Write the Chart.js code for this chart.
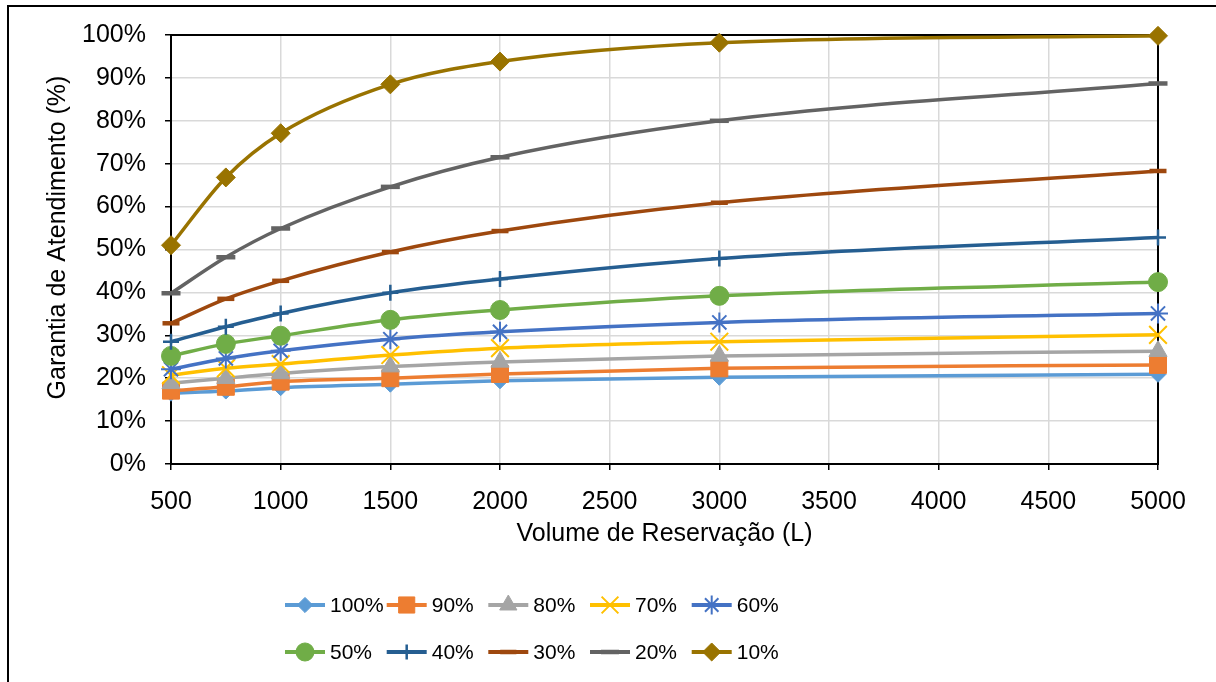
<!DOCTYPE html>
<html>
<head>
<meta charset="utf-8">
<title>Garantia de Atendimento</title>
<script src="https://cdn.jsdelivr.net/npm/chart.js@4"></script>
<style>
  html, body { margin: 0; padding: 0; background: #fff; }
  #wrap { position: relative; width: 1216px; height: 682px; overflow: hidden; }
  #frame { position: absolute; left: 7px; top: 5px; width: 1300px; height: 800px;
           border-left: 2px solid #000; border-top: 2px solid #000; }
  #c { position: absolute; left: 0; top: 0; }
</style>
</head>
<body>
<div id="wrap">
  <div id="frame"></div>
  <canvas id="c" width="1216" height="682"></canvas>
</div>
<script>
// Reservoir volume (L)
const volumes = [500, 750, 1000, 1500, 2000, 3000, 5000];

// Supply reliability (%) for each demand level
const s100 = [16.5, 17.0, 17.8, 18.6, 19.4, 20.2, 20.9];
const s90  = [17.1, 18.0, 19.2, 20.0, 21.0, 22.3, 23.1];
const s80  = [18.8, 20.0, 21.1, 22.7, 23.8, 25.2, 26.3];
const s70  = [20.7, 22.3, 23.3, 25.4, 27.0, 28.5, 30.1];
const s60  = [22.1, 24.6, 26.4, 29.1, 30.8, 33.0, 35.1];
const s50  = [25.2, 28.0, 29.9, 33.6, 35.9, 39.2, 42.4];
const s40  = [28.5, 32.0, 35.1, 39.9, 43.1, 47.9, 52.8];
const s30  = [32.8, 38.5, 42.7, 49.4, 54.3, 60.9, 68.3];
const s20  = [39.8, 48.2, 54.9, 64.6, 71.5, 80.0, 88.7];
const s10  = [51.0, 66.8, 77.1, 88.5, 93.8, 98.2, 99.8];

const seriesNames = ['100%', '90%', '80%', '70%', '60%', '50%', '40%', '30%', '20%', '10%'];
const seriesValues = [s100, s90, s80, s70, s60, s50, s40, s30, s20, s10];

const xTicksMin = 500, xTicksMax = 5000, xStep = 500;
const yTicksMin = 0, yTicksMax = 100, yStep = 10;

const yTitleText = 'Garantia de Atendimento (%)';
const xTitleText = 'Volume de Reservação (L)';

const FONT = "'Liberation Sans', Arial, sans-serif";

// marker appearance per series
const styles = [
  { color: '#5B9BD5', pointStyle: 'rectRot',  radius: 8,    bw: 1 },
  { color: '#ED7D31', pointStyle: 'rect',     radius: 12,   bw: 1 },
  { color: '#A5A5A5', pointStyle: 'triangle', radius: 10.5, bw: 1 },
  { color: '#FFC000', pointStyle: 'crossRot', radius: 12.5, bw: 2 },
  { color: '#4472C4', pointStyle: 'star',     radius: 10,   bw: 2 },
  { color: '#70AD47', pointStyle: 'circle',   radius: 9.5,  bw: 1 },
  { color: '#255E91', pointStyle: 'cross',    radius: 8,    bw: 2.5 },
  { color: '#9E480E', pointStyle: 'line',     radius: 8.5,  bw: 4.5 },
  { color: '#636363', pointStyle: 'line',     radius: 9.5,  bw: 4.5 },
  { color: '#997300', pointStyle: 'rectRot',  radius: 9.5,  bw: 1 }
];

const datasets = seriesNames.map((name, i) => ({
  label: name,
  data: volumes.map((v, k) => ({ x: v, y: seriesValues[i][k] })),
  borderColor: styles[i].color,
  backgroundColor: styles[i].color,
  borderWidth: 3.5,
  pointStyle: styles[i].pointStyle,
  pointRadius: styles[i].radius,
  pointHoverRadius: styles[i].radius,
  pointBackgroundColor: styles[i].color,
  pointBorderColor: styles[i].color,
  pointBorderWidth: styles[i].bw,
  cubicInterpolationMode: 'monotone',
  order: seriesNames.length - i,
  clip: false
}));

// black frame around the plotting area, under the series
const plotFrame = {
  id: 'plotFrame',
  beforeDatasetsDraw(chart) {
    const { ctx, chartArea: a } = chart;
    ctx.save();
    ctx.strokeStyle = '#000';
    ctx.lineWidth = 2;
    ctx.strokeRect(a.left, a.top, a.right - a.left, a.bottom - a.top);
    ctx.restore();
  }
};

// rotated value-axis title, sitting slightly above the plot's middle
const yTitle = {
  id: 'yTitle',
  afterDraw(chart) {
    const { ctx, chartArea: a } = chart;
    ctx.save();
    ctx.translate(58, (a.top + a.bottom) / 2 - 12);
    ctx.rotate(-Math.PI / 2);
    ctx.fillStyle = '#000';
    ctx.font = '25px ' + FONT;
    ctx.textAlign = 'center';
    ctx.textBaseline = 'middle';
    ctx.fillText(yTitleText, 0, 0);
    ctx.restore();
  }
};

// two-row legend with line + marker samples
const legendRows = {
  id: 'legendRows',
  afterDraw(chart) {
    const ctx = chart.ctx;
    const colX = [285, 386.7, 488.3, 590, 691.7];
    const rowY = [605, 652];
    ctx.save();
    chart.data.datasets.forEach((ds, i) => {
      const col = i % 5, row = Math.floor(i / 5);
      const x0 = colX[col], y = rowY[row];
      const st = styles[i];
      ctx.strokeStyle = st.color;
      ctx.lineWidth = 4;
      ctx.lineCap = 'butt';
      ctx.beginPath();
      ctx.moveTo(x0, y);
      ctx.lineTo(x0 + 40, y);
      ctx.stroke();
      ctx.fillStyle = st.color;
      ctx.strokeStyle = st.color;
      ctx.lineWidth = st.bw;
      Chart.helpers.drawPoint(ctx, {
        pointStyle: st.pointStyle, rotation: 0,
        radius: st.radius * 0.95, borderWidth: st.bw
      }, x0 + 20, y);
      ctx.fillStyle = '#000';
      ctx.font = '21px ' + FONT;
      ctx.textBaseline = 'middle';
      ctx.textAlign = 'left';
      ctx.fillText(ds.label, x0 + 45, y + 1);
    });
    ctx.restore();
  }
};

new Chart(document.getElementById('c'), {
  type: 'line',
  data: { datasets },
  options: {
    responsive: false,
    animation: false,
    events: [],
    layout: { padding: { left: 35, top: 35, right: 58, bottom: 128 } },
    plugins: {
      legend: { display: false },
      tooltip: { enabled: false }
    },
    scales: {
      x: {
        type: 'linear',
        min: xTicksMin,
        max: xTicksMax,
        afterFit(s) { s.height = 90; },
        ticks: {
          stepSize: xStep,
          color: '#000',
          font: { family: FONT, size: 25 },
          padding: 17,
          maxRotation: 0,
          callback: v => String(v)
        },
        grid: { color: '#d9d9d9', lineWidth: 1.5, tickColor: '#000', tickLength: 6, tickWidth: 1.5 },
        border: { color: '#000', width: 2 },
        title: {
          display: true,
          text: xTitleText,
          color: '#000',
          font: { family: FONT, size: 25 },
          padding: { top: 0, bottom: 5 }
        }
      },
      y: {
        min: yTicksMin,
        max: yTicksMax,
        afterFit(s) { s.width = 136; },
        ticks: {
          stepSize: yStep,
          color: '#000',
          font: { family: FONT, size: 25 },
          padding: 19,
          callback: v => v + '%'
        },
        grid: { color: '#d9d9d9', lineWidth: 1.5, tickColor: '#000', tickLength: 6, tickWidth: 1.5 },
        border: { color: '#000', width: 2 }
      }
    }
  },
  plugins: [plotFrame, yTitle, legendRows]
});
</script>
</body>
</html>
